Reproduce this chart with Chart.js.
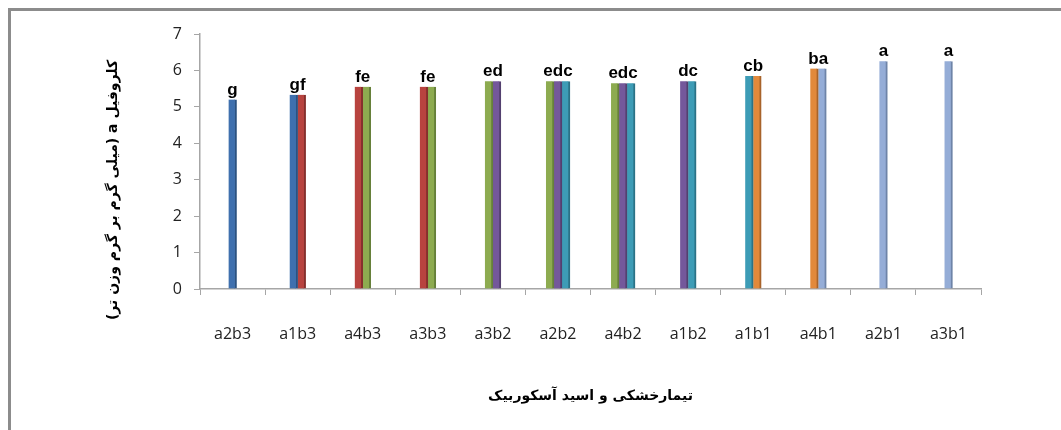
<!DOCTYPE html>
<html>
<head>
<meta charset="utf-8">
<script src="https://cdn.jsdelivr.net/npm/chart.js@4.4.1/dist/chart.umd.min.js"></script>
<style>
  body { margin: 0; background: #fff; }
  #frame { position: absolute; left: 8px; top: 8px; width: 1100px; height: 460px;
           border-left: 3px solid #8c8c8c; border-top: 3px solid #8c8c8c; }
  #chart { position: absolute; left: 0; top: 0; }
</style>
</head>
<body>
<div id="frame"></div>
<canvas id="chart" width="1061" height="430"></canvas>
<script>
var categories = ['a2b3', 'a1b3', 'a4b3', 'a3b3', 'a3b2', 'a2b2', 'a4b2', 'a1b2', 'a1b1', 'a4b1', 'a2b1', 'a3b1'];
var chlorophyllA = [5.2, 5.33, 5.55, 5.55, 5.7, 5.7, 5.65, 5.7, 5.85, 6.05, 6.25, 6.25];
var groupLetters = ['g', 'gf', 'fe', 'fe', 'ed', 'edc', 'edc', 'dc', 'cb', 'ba', 'a', 'a'];
var letterOrder = ['g', 'f', 'e', 'd', 'c', 'b', 'a'];
var yTitle = 'کلروفیل a (میلی گرم بر گرم وزن تر)';
var xTitle = 'تیمارخشکی و اسید آسکوربیک';

// fill / side colour for each letter group
var letterColors = {
    g: ['#3f70ae', '#2c5280'],
    f: ['#b8433f', '#85302d'],
    e: ['#8dab50', '#66803a'],
    d: ['#74589b', '#53406f'],
    c: ['#3d9cb6', '#2b7286'],
    b: ['#e2893b', '#a8632a'],
    a: ['#95add7', '#6e84a8']
};

var datasets = letterOrder.map(function (L) {
    return {
        label: L,
        data: categories.map(function (c, i) {
            return groupLetters[i].indexOf(L) >= 0 ? chlorophyllA[i] : null;
        }),
        backgroundColor: letterColors[L][0],
        borderColor: letterColors[L][1],
        borderWidth: { top: 0, left: 0, bottom: 0, right: 2 },
        borderSkipped: false,
        barThickness: 8,
        skipNull: true
    };
});

var letterLabels = {
    id: 'letterLabels',
    afterDatasetsDraw: function (chart) {
        var ctx = chart.ctx;
        var x = chart.scales.x, y = chart.scales.y;
        ctx.save();
        ctx.font = 'bold 17px "Liberation Sans", Arial, sans-serif';
        ctx.fillStyle = '#000';
        ctx.textAlign = 'center';
        ctx.textBaseline = 'alphabetic';
        categories.forEach(function (c, i) {
            ctx.fillText(groupLetters[i], x.getPixelForValue(i), y.getPixelForValue(chlorophyllA[i]) - 5);
        });
        ctx.restore();
    }
};

// y title drawn by hand so it can be right-to-left and sit lower like the original
var yTitlePlugin = {
    id: 'yTitlePlugin',
    afterDraw: function (chart) {
        var ctx = chart.ctx;
        ctx.save();
        ctx.translate(113, 190);
        ctx.rotate(-Math.PI / 2);
        ctx.direction = 'rtl';
        ctx.font = 'bold 14px "DejaVu Sans", sans-serif';
        ctx.fillStyle = '#000';
        ctx.textAlign = 'center';
        ctx.textBaseline = 'middle';
        ctx.fillText(yTitle, 0, 0);
        ctx.restore();
    }
};

new Chart(document.getElementById('chart').getContext('2d'), {
    type: 'bar',
    data: { labels: categories, datasets: datasets },
    options: {
        responsive: false,
        animation: false,
        layout: { padding: { left: 100, right: 80, top: 34, bottom: 25 } },
        plugins: {
            legend: { display: false },
            tooltip: { enabled: false }
        },
        scales: {
            x: {
                afterFit: function (s) { s.height = 116; },
                grid: { drawOnChartArea: false, color: '#a6a6a6', tickLength: 6 },
                border: { color: '#a6a6a6', width: 1.5 },
                ticks: { color: '#222', padding: 30, maxRotation: 0,
                         font: { family: '"Open Sans", sans-serif', size: 16 } },
                title: {
                    display: true,
                    text: xTitle,
                    color: '#000',
                    padding: { top: 4, bottom: 0 },
                    font: { family: '"DejaVu Sans", sans-serif', size: 14, weight: 'bold' }
                }
            },
            y: {
                min: 0,
                max: 7,
                afterFit: function (s) { s.width = 100; },
                grid: { drawOnChartArea: false, color: '#a6a6a6', tickLength: 6 },
                border: { color: '#a6a6a6', width: 1.5 },
                ticks: { stepSize: 1, color: '#222', padding: 12,
                         font: { family: '"Open Sans", sans-serif', size: 16 } }
            }
        }
    },
    plugins: [letterLabels, yTitlePlugin]
});
</script>
</body>
</html>
